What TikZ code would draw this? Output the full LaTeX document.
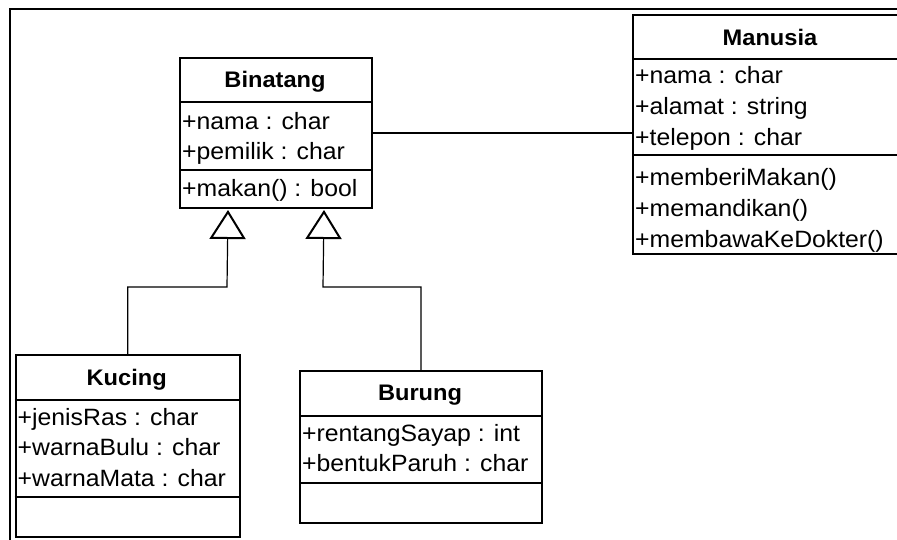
\documentclass[tikz,border=0pt]{standalone}
\usepackage{fontspec}
\setmainfont{Liberation Sans}[FakeStretch=1.05]
\usetikzlibrary{arrows.meta,calc}
\tikzset{
  cls/.style={draw, line width=2pt, inner sep=0pt, anchor=north west},
  sepline/.style={line width=2pt},
  head/.style={anchor=base, inner sep=0pt, font=\fontsize{22.5}{26}\selectfont\bfseries},
  attr/.style={anchor=base west, inner sep=0pt, font=\fontsize{23.6}{26}\selectfont},
  conn/.style={line width=1.2pt},
  gen/.style={line width=1.2pt, -{Triangle[open, length=29pt, width=36pt, line width=2pt]}},
  frameline/.style={line width=2.5pt}
}
\begin{document}
\begin{tikzpicture}[x=1pt, y=-1pt]
\useasboundingbox (0,0) rectangle (897,539);
% frame
\draw[frameline] (10,545) -- (10,9) -- (905,9);

% Binatang
\node[cls, minimum width=192pt, minimum height=150pt] (bin) at (179,57) {};
\draw[sepline] (bin.west |- 0,102) -- (bin.east |- 0,102);
\draw[sepline] (bin.west |- 0,170) -- (bin.east |- 0,170);
\node[head] (binh) at (275,87) {Binatang};
\node[attr] (bin1) at (182,129) {+nama : char};
\node[attr] (bin2) at (182,159.5) {+pemilik : char};
\node[attr] (bin3) at (182,196.5) {+makan() : bool};

% Manusia
\node[cls, minimum width=276pt, minimum height=239pt] (man) at (632,14) {};
\draw[sepline] (man.west |- 0,59) -- (man.east |- 0,59);
\draw[sepline] (man.west |- 0,155) -- (man.east |- 0,155);
\node[head] (manh) at (770,45) {Manusia};
\node[attr] (man1) at (635,83) {+nama : char};
\node[attr] (man2) at (635,114) {+alamat : string};
\node[attr] (man3) at (635,145) {+telepon : char};
\node[attr] (man4) at (635,185) {+memberiMakan()};
\node[attr] (man5) at (635,216) {+memandikan()};
\node[attr] (man6) at (635,247) {+membawaKeDokter()};

% Kucing
\node[cls, minimum width=224.5pt, minimum height=182pt] (kuc) at (14.5,354) {};
\draw[sepline] (kuc.west |- 0,400) -- (kuc.east |- 0,400);
\draw[sepline] (kuc.west |- 0,497) -- (kuc.east |- 0,497);
\node[head] (kuch) at (126.7,385) {Kucing};
\node[attr] (kuc1) at (17.5,425) {+jenisRas : char};
\node[attr] (kuc2) at (17.5,455.7) {+warnaBulu : char};
\node[attr] (kuc3) at (17.5,486) {+warnaMata : char};

% Burung
\node[cls, minimum width=242pt, minimum height=152pt] (bur) at (299,370) {};
\draw[sepline] (bur.west |- 0,416) -- (bur.east |- 0,416);
\draw[sepline] (bur.west |- 0,483) -- (bur.east |- 0,483);
\node[head] (burh) at (420,400) {Burung};
\node[attr] (bur1) at (302,441) {+rentangSayap : int};
\node[attr] (bur2) at (302,471.7) {+bentukParuh : char};

% association
\draw[conn] (bin.east) -- (bin.east -| man.west);

% generalizations
\coordinate (t1) at ($(bin.south)+(-48,1)$);
\coordinate (t2) at ($(bin.south)+(48,1)$);
\coordinate (k1) at (227,287);
\coordinate (k2) at (323,287);
\draw[gen] (kuc.north) |- (k1) -- (t1);
\draw[gen] (bur.north) |- (k2) -- (t2);
\end{tikzpicture}
\end{document}
